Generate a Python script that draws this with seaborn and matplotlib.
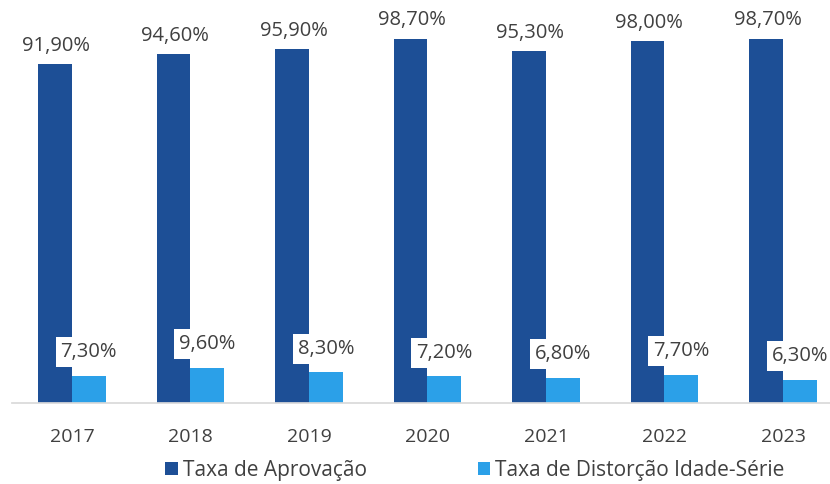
import seaborn as sns
import matplotlib.pyplot as plt
import pandas as pd

anos = ["2017", "2018", "2019", "2020", "2021", "2022", "2023"]
aprovacao = [91.9, 94.6, 95.9, 98.7, 95.3, 98.0, 98.7]
distorcao = [7.3, 9.6, 8.3, 7.2, 6.8, 7.7, 6.3]
series = ["Taxa de Aprovação", "Taxa de Distorção Idade-Série"]

df = pd.DataFrame({
    "ano": anos * 2,
    "valor": aprovacao + distorcao,
    "serie": [series[0]] * len(anos) + [series[1]] * len(anos),
})

colors = ["#1d4f96", "#2ba0e8"]
sns.set_theme(style="white")
plt.rcParams['font.family'] = ['Open Sans', 'DejaVu Sans']

fig = plt.figure(figsize=(8.3, 4.84), dpi=100)
# baseline at y=403 px, 100 units ~ 369 px
ax = fig.add_axes([12 / 830, 81 / 484, 818 / 830, 369 / 484])

sns.barplot(data=df, x="ano", y="valor", hue="serie", palette=colors,
            width=0.57, gap=0, saturation=1, linewidth=0, ax=ax)

ax.set_xlim(-0.506, 6.397)
ax.set_ylim(0, 100)

sns.despine(ax=ax, left=True)
ax.spines['bottom'].set_color('#d9d9d9')
ax.set_yticks([])
ax.set_xlabel("")
ax.set_ylabel("")
ax.tick_params(axis='x', length=0, pad=18, labelsize=14, labelcolor='#404040')

cont_apr, cont_dist = ax.containers[0], ax.containers[1]
for bar, v in zip(cont_apr, aprovacao):
    ax.annotate(f"{v:.2f}%".replace(".", ","),
                (bar.get_x() + bar.get_width() / 2, bar.get_height()),
                xytext=(1, 6), textcoords="offset points", ha="center", va="bottom",
                fontsize=14.5, color="#404040")
for bar, v in zip(cont_dist, distorcao):
    ax.annotate(f"{v:.2f}%".replace(".", ","),
                (bar.get_x() + bar.get_width() / 2, bar.get_height()),
                xytext=(0, 17), textcoords="offset points", ha="center", va="center",
                fontsize=14.5, color="#404040",
                bbox=dict(boxstyle="square,pad=0.25", fc="white", ec="none"))

sns.move_legend(ax, loc="lower center", bbox_to_anchor=(0.566, -0.262), ncol=2,
                frameon=False, title=None, fontsize=15, handlelength=0.6,
                handleheight=0.6, handletextpad=0.25, columnspacing=5.3)
for t in ax.get_legend().get_texts():
    t.set_color('#404040')

plt.savefig("out.png", dpi=100)
